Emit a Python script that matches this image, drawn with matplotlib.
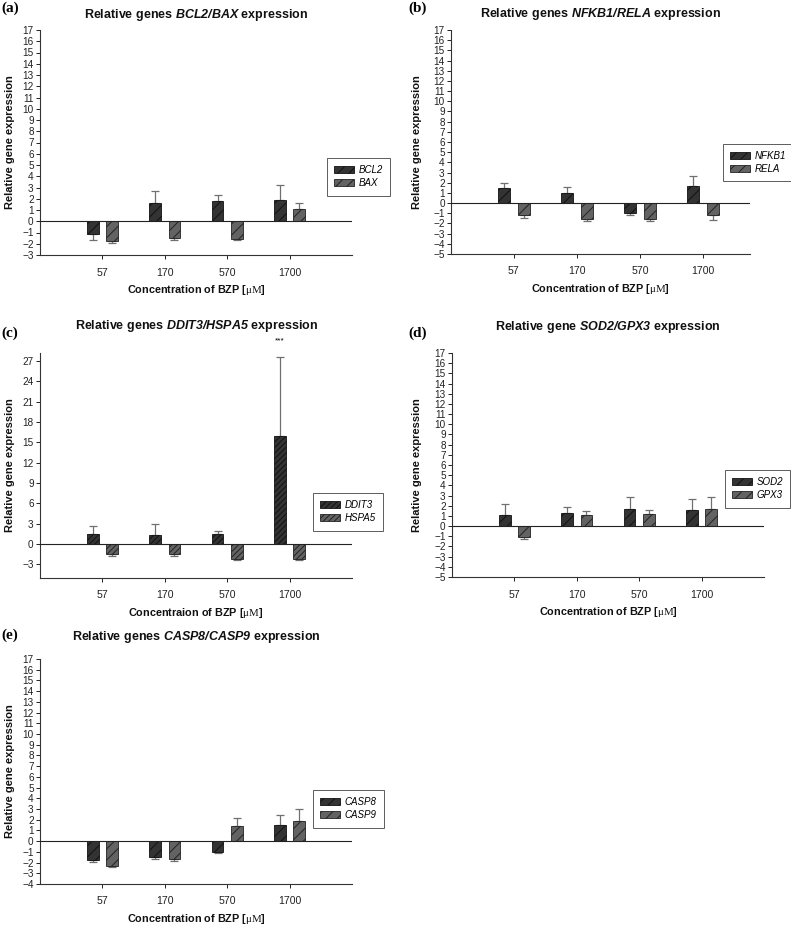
import numpy as np
import matplotlib
matplotlib.use('Agg')
import matplotlib.pyplot as plt

plt.rcParams['font.family'] = ['Liberation Sans', 'DejaVu Sans']
plt.rcParams['mathtext.fontset'] = 'custom'
plt.rcParams['mathtext.rm'] = 'Liberation Sans:italic:bold'
plt.rcParams['mathtext.it'] = 'Liberation Sans:italic:bold'
plt.rcParams['mathtext.sf'] = 'Liberation Serif'
plt.rcParams['mathtext.bf'] = 'Liberation Sans:bold'
plt.rcParams['hatch.linewidth'] = 0.7

concentrations = ['57', '170', '570', '1700']

# (a) BCL2 / BAX
bcl2 = [-1.1, 1.65, 1.8, 1.9]
bcl2_sd = [0.55, 1.0, 0.55, 1.3]
bax = [-1.75, -1.5, -1.55, 1.05]
bax_sd = [0.15, 0.2, 0.15, 0.6]

# (b) NFKB1 / RELA
nfkb1 = [1.5, 1.0, -1.0, 1.65]
nfkb1_sd = [0.45, 0.6, 0.15, 1.05]
rela = [-1.2, -1.6, -1.6, -1.2]
rela_sd = [0.25, 0.2, 0.15, 0.5]

# (c) DDIT3 / HSPA5
ddit3 = [1.5, 1.35, 1.45, 15.9]
ddit3_sd = [1.2, 1.55, 0.55, 11.7]
hspa5 = [-1.5, -1.4, -2.2, -2.15]
hspa5_sd = [0.25, 0.4, 0.1, 0.2]

# (d) SOD2 / GPX3
sod2 = [1.1, 1.3, 1.7, 1.6]
sod2_sd = [1.1, 0.6, 1.15, 1.05]
gpx3 = [-1.05, 1.1, 1.2, 1.65]
gpx3_sd = [0.25, 0.35, 0.4, 1.25]

# (e) CASP8 / CASP9
casp8 = [-1.8, -1.5, -1.05, 1.5]
casp8_sd = [0.15, 0.15, 0.1, 0.95]
casp9 = [-2.35, -1.7, 1.45, 1.85]
casp9_sd = [0.05, 0.15, 0.7, 1.15]

W, H = 791, 927
fig = plt.figure(figsize=(W / 100, H / 100), dpi=100)


def px_axes(x0, y0, x1, y1):
    return fig.add_axes([x0 / W, 1 - y1 / H, (x1 - x0) / W, (y1 - y0) / H])


def one_sided(values, sd):
    values = np.array(values)
    sd = np.array(sd)
    lower = np.where(values < 0, sd, 0)
    upper = np.where(values >= 0, sd, 0)
    return [lower, upper]


def panel(box, letter, letter_xy, title, title_y, genes, s1, e1, s2, e2, ylim, yticks,
          xmax, legend_xy, xlabel, hatch='///', ylab_x=10):
    x0, y0, x1, y1 = box
    ax = px_axes(x0, y0, x1, y1)
    x = np.arange(len(concentrations))
    w = 0.19
    off = 0.155
    ax.bar(x - off, s1, w, color='#333333', edgecolor='#111111', hatch=hatch,
           linewidth=0.6, label=genes[0], zorder=2)
    ax.bar(x + off, s2, w, color='#636363', edgecolor='#222222', hatch=hatch,
           linewidth=0.6, label=genes[1], zorder=2)
    ax.errorbar(x - off, s1, yerr=one_sided(s1, e1), fmt='none', ecolor='#707070',
                elinewidth=0.9, capsize=3, capthick=0.9, zorder=1)
    ax.errorbar(x + off, s2, yerr=one_sided(s2, e2), fmt='none', ecolor='#707070',
                elinewidth=0.9, capsize=3, capthick=0.9, zorder=1)
    ax.axhline(0, color='#222222', lw=0.8, zorder=3)
    ax.set_xlim(-1, xmax)
    ax.set_ylim(*ylim)
    ax.set_yticks(yticks)
    ax.set_xticks(x)
    ax.set_xticklabels(concentrations)
    for s in ['top', 'right']:
        ax.spines[s].set_visible(False)
    for s in ['left', 'bottom']:
        ax.spines[s].set_color('#333333')
        ax.spines[s].set_linewidth(0.8)
    ax.tick_params(axis='y', labelsize=7.2, length=3, width=0.7, pad=1.5,
                   colors='#222222')
    ax.tick_params(axis='x', labelsize=7.6, length=3, width=0.7, pad=6,
                   colors='#222222')
    ax.set_facecolor('none')

    leg = ax.legend(loc='upper left', bbox_to_anchor=(legend_xy[0] / W, 1 - legend_xy[1] / H),
                    bbox_transform=fig.transFigure, borderaxespad=0, frameon=True,
                    fancybox=False, edgecolor='#333333',
                    prop={'style': 'italic', 'size': 7}, handlelength=2.0,
                    handleheight=0.75, labelspacing=0.3, borderpad=0.75,
                    handletextpad=0.5)
    leg.get_frame().set_linewidth(0.7)

    xc = (x0 + x1) / 2
    fig.text(xc / W, 1 - title_y / H, title, ha='center', va='center',
             fontsize=9, fontweight='bold', color='#111111')
    fig.text(letter_xy[0] / W, 1 - letter_xy[1] / H, letter, ha='left', va='center',
             fontsize=11, fontweight='bold', family='Liberation Serif')
    fig.text(ylab_x / W, 1 - ((y0 + y1) / 2) / H, 'Relative gene expression',
             rotation=90, ha='center', va='center', fontsize=8,
             fontweight='bold', color='#111111')
    fig.text(xc / W, 1 - (y1 + 35) / H, xlabel, ha='center', va='center',
             fontsize=7.8, fontweight='bold', color='#111111')
    return ax


xlab = r'Concentration of BZP [$\mathsf{\mu M}$]'
xlab_c = r'Concentraion of BZP [$\mathsf{\mu M}$]'

panel((40, 30, 352, 255), '(a)', (1, 8), r'Relative genes $\mathrm{BCL2/BAX}$ expression', 15,
      ['BCL2', 'BAX'], bcl2, bcl2_sd, bax, bax_sd, (-3, 17), np.arange(-3, 18),
      4.0, (327, 158), xlab, ylab_x=10)

panel((451, 30, 750, 254), '(b)', (408, 8), r'Relative genes $\mathrm{NFKB1/RELA}$ expression', 14,
      ['NFKB1', 'RELA'], nfkb1, nfkb1_sd, rela, rela_sd, (-5, 17), np.arange(-5, 18),
      3.75, (723, 144), xlab, ylab_x=417)

ax_c = panel((40, 353, 352, 578), '(c)', (1, 333), r'Relative genes $\mathrm{DDIT3/HSPA5}$ expression',
             326, ['DDIT3', 'HSPA5'], ddit3, ddit3_sd, hspa5, hspa5_sd, (-5, 28.2),
             np.arange(-3, 28, 3), 4.0, (313, 493), xlab_c, hatch='//////', ylab_x=10)
ax_c.text(3 - 0.155, 30.0, '***', ha='center', va='center', fontsize=6, clip_on=False)

panel((452, 353, 764, 577), '(d)', (408, 333), r'Relative gene $\mathrm{SOD2/GPX3}$ expression', 327,
      ['SOD2', 'GPX3'], sod2, sod2_sd, gpx3, gpx3_sd, (-5, 17), np.arange(-5, 18),
      4.0, (725, 470), xlab, ylab_x=417)

panel((40, 659, 352, 884), '(e)', (1, 635), r'Relative genes $\mathrm{CASP8/CASP9}$ expression', 637,
      ['CASP8', 'CASP9'], casp8, casp8_sd, casp9, casp9_sd, (-4, 17), np.arange(-4, 18),
      4.0, (313, 790), xlab, ylab_x=10)

fig.savefig('out.png', dpi=100)
